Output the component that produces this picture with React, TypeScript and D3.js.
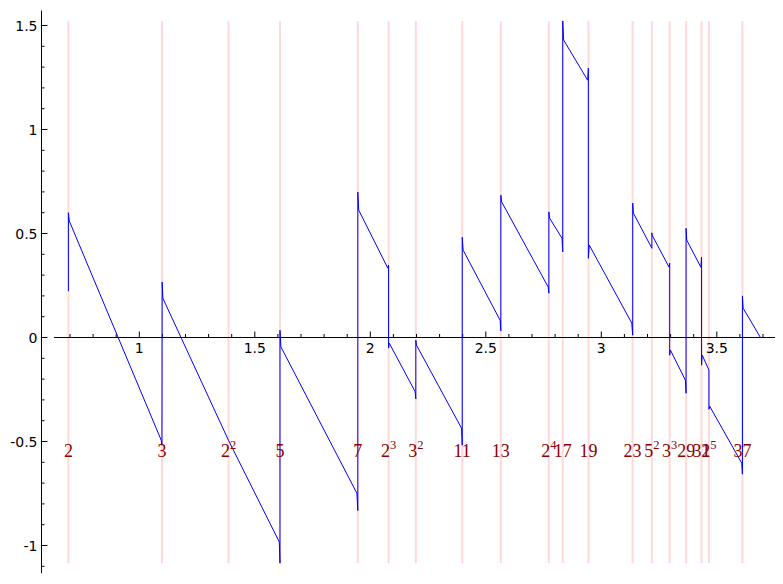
import React from "react";
import * as d3 from "d3";

// Curve vertices (x = log n, y = value)
const curveT = [
  0.693, 0.693, 0.697, 1.095, 1.098, 1.099, 1.102, 1.386, 1.606, 1.609, 1.609, 1.613,
  1.942, 1.946, 1.946, 1.950, 2.076, 2.079, 2.079, 2.082, 2.194, 2.197, 2.197, 2.200,
  2.395, 2.398, 2.398, 2.402, 2.562, 2.565, 2.565, 2.569, 2.770, 2.773, 2.773, 2.776,
  2.830, 2.833, 2.833, 2.837, 2.941, 2.944, 2.944, 2.948, 3.132, 3.136, 3.136, 3.139,
  3.219, 3.219, 3.221, 3.293, 3.296, 3.296, 3.299, 3.364, 3.367, 3.367, 3.370,
  3.431, 3.434, 3.434, 3.437, 3.466, 3.466, 3.469, 3.608, 3.611, 3.611, 3.614, 3.689,
];
const curveV = [
  0.223, 0.600, 0.560, -0.494, -0.518, 0.267, 0.189, -0.494, -0.983, -1.085, 0.035, -0.045,
  -0.749, -0.832, 0.699, 0.612, 0.333, 0.348, -0.051, -0.027, -0.260, -0.295, -0.013, -0.037,
  -0.436, -0.518, 0.482, 0.420, 0.083, 0.032, 0.684, 0.651, 0.243, 0.213, 0.604, 0.574,
  0.477, 0.412, 1.522, 1.430, 1.237, 1.295, 0.381, 0.444, 0.069, 0.011, 0.646, 0.598,
  0.429, 0.503, 0.490, 0.339, 0.357, -0.085, -0.060, -0.205, -0.268, 0.525, 0.468,
  0.338, 0.386, -0.133, -0.085, -0.157, -0.345, -0.330, -0.604, -0.657, 0.200, 0.141, 0.000,
];

// Prime power markers
const markerT = [
  0.6931, 1.0986, 1.3863, 1.6094, 1.9459, 2.0794, 2.1972, 2.3979, 2.5649, 2.7726,
  2.8332, 2.9444, 3.1355, 3.2189, 3.2958, 3.3673, 3.4340, 3.4657, 3.6109,
];
const labelBase = ["2", "3", "2", "5", "7", "2", "3", "11", "13", "2", "17", "19", "23", "5", "3", "29", "31", "2", "37"];
const labelExp = ["", "", "2", "", "", "3", "2", "", "", "4", "", "", "", "2", "3", "", "", "5", ""];
const markerMin = -1.085;
const markerMax = 1.522;
const labelV = -0.575;

const xMajorTicks = [1, 1.5, 2, 2.5, 3, 3.5];
const xMajorLabels = ["1", "1.5", "2", "2.5", "3", "3.5"];
const yMajorTicks = [-1, -0.5, 0, 0.5, 1, 1.5];
const yMajorLabels = ["-1", "-0.5", "0", "0.5", "1", "1.5"];
const xMinorTicks = [0.7, 0.8, 0.9, 1.1, 1.2, 1.3, 1.4, 1.6, 1.7, 1.8, 1.9, 2.1, 2.2, 2.3, 2.4, 2.6, 2.7, 2.8, 2.9, 3.1, 3.2, 3.3, 3.4, 3.6, 3.7];
const yMinorTicks = [-1.1, -0.9, -0.8, -0.7, -0.6, -0.4, -0.3, -0.2, -0.1, 0.1, 0.2, 0.3, 0.4, 0.6, 0.7, 0.8, 0.9, 1.1, 1.2, 1.3, 1.4];

const xAxisStart = 0.631;
const xAxisEnd = 3.752;
const yAxisX = 0.574;
const yAxisTop = 1.572;
const yAxisBottom = -1.133;

export default function App() {
  const W = 783;
  const H = 584;
  const x = d3.scaleLinear().domain([1, 3]).range([139.3, 601.3]);
  const y = d3.scaleLinear().domain([0, 1]).range([337.5, 129.5]);

  const pts: [number, number][] = curveT.map((t, i) => [t, curveV[i]]);
  const line = d3
    .line<[number, number]>()
    .x((d) => x(d[0]))
    .y((d) => y(d[1]));

  const y0 = y(0);
  const ax = Math.round(x(yAxisX)) + 0.5;
  const tickFont = "DejaVu Sans, sans-serif";

  return (
    <svg
      width={W}
      height={H}
      style={{ position: "absolute", left: 0, top: 0, background: "#fff" }}
    >
      <rect x={0} y={0} width={W} height={H} fill="#fff" />
      {/* pink marker lines */}
      {markerT.map((t, i) => (
        <line
          key={"m" + i}
          x1={x(t)}
          x2={x(t)}
          y1={y(markerMax)}
          y2={y(markerMin)}
          stroke="#ff0000"
          strokeOpacity={0.15}
          strokeWidth={2}
        />
      ))}
      {/* axes */}
      <line x1={x(xAxisStart)} x2={x(xAxisEnd)} y1={y0} y2={y0} stroke="#000" strokeWidth={1} />
      <line x1={ax} x2={ax} y1={y(yAxisTop)} y2={y(yAxisBottom)} stroke="#000" strokeWidth={1} />
      {xMajorTicks.map((t, i) => (
        <g key={"xt" + i}>
          <line x1={x(t)} x2={x(t)} y1={y0} y2={y0 - 6} stroke="#000" strokeWidth={1} />
          <text x={x(t)} y={y0 + 15} textAnchor="middle" fontFamily={tickFont} fontSize={14}>
            {xMajorLabels[i]}
          </text>
        </g>
      ))}
      {xMinorTicks.map((t, i) => (
        <line key={"xm" + i} x1={x(t)} x2={x(t)} y1={y0} y2={y0 - 3.5} stroke="#000" strokeWidth={1} />
      ))}
      {yMajorTicks.map((v, i) => (
        <g key={"yt" + i}>
          <line x1={ax} x2={ax + 6} y1={y(v)} y2={y(v)} stroke="#000" strokeWidth={1} />
          <text x={ax - 4} y={y(v) + 5} textAnchor="end" fontFamily={tickFont} fontSize={14}>
            {yMajorLabels[i]}
          </text>
        </g>
      ))}
      {yMinorTicks.map((v, i) => (
        <line key={"ym" + i} x1={ax} x2={ax + 3} y1={y(v)} y2={y(v)} stroke="#000" strokeWidth={1} />
      ))}
      {/* curve */}
      <path d={line(pts) || ""} fill="none" stroke="#0000ff" strokeWidth={1} />
      {/* labels */}
      {markerT.map((t, i) => (
        <text
          key={"l" + i}
          x={x(t)}
          y={y(labelV)}
          textAnchor="middle"
          fontFamily="Liberation Serif, serif"
          fontSize={18}
          fill="#8b0000"
        >
          {labelBase[i]}
          {labelExp[i] ? (
            <tspan dy={-8} fontSize={12.5}>
              {labelExp[i]}
            </tspan>
          ) : null}
        </text>
      ))}
    </svg>
  );
}
